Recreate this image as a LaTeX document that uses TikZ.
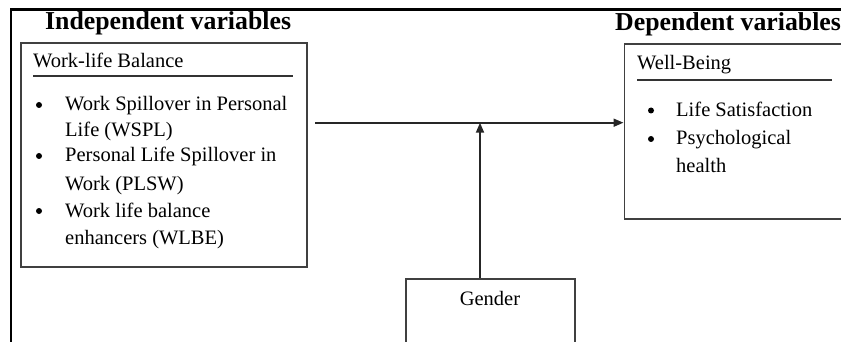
\documentclass[tikz,border=0pt]{standalone}
\usepackage{fontspec}
\setmainfont{LiberationSerif}[Extension=.ttf,UprightFont=*-Regular,BoldFont=*-Bold,ItalicFont=*-Italic,BoldItalicFont=*-BoldItalic]
\usetikzlibrary{arrows.meta}
\begin{document}
\begin{tikzpicture}[x=1pt,y=1pt,
  box/.style={draw=black!75,line width=1.6pt,rectangle,inner sep=0pt},
  frameline/.style={draw=black,line width=2.8pt},
  hline/.style={draw=black!80,line width=1.5pt},
  txt/.style={anchor=base west,inner sep=0pt,font=\rmfamily\fontsize{20.5}{24}\selectfont},
  head/.style={anchor=base west,inner sep=0pt,font=\rmfamily\fontsize{25.8}{30}\selectfont\bfseries},
  bul/.style={circle,fill=black,inner sep=0pt,minimum size=6pt},
  arr/.style={draw=black!85,line width=1.8pt,-{Triangle[length=10pt,width=8pt]}}]
\useasboundingbox (0,0) rectangle (841,-342);
\clip (0,0) rectangle (841,-342);
% outer frame
\coordinate (f0) at (11,-342);
\coordinate (f1) at (11,-9.5);
\coordinate (f2) at (845,-9.5);
\draw[frameline] (f0) -- (f1) -- (f2);
% headings
\node[head] (hind) at (45,-29.5) {Independent variables};
\node[head] (hdep) at (615,-30.5) {Dependent variables};
% boxes
\node[box,anchor=north west,minimum width=286pt,minimum height=224pt] (ind) at (20,-42) {};
\node[box,anchor=north west,minimum width=230pt,minimum height=175pt] (dep) at (623.5,-43) {};
\node[box,anchor=north west,minimum width=169pt,minimum height=90pt] (gen) at (405,-278) {};
% left box content
\node[txt] (wlb) at (33,-68) {Work-life Balance};
\coordinate (l1a) at (33,-76);
\coordinate (l1b) at (293,-76);
\draw[hline] (l1a) -- (l1b);
\node[bul] (b1) at (39,-105) {};
\node[txt] (t1) at (65,-111) {Work Spillover in Personal};
\node[txt] (t1b) at (65,-137) {Life (WSPL)};
\node[bul] (b2) at (39,-156) {};
\node[txt] (t2) at (65,-162) {Personal Life Spillover in};
\node[txt] (t2b) at (65,-190) {Work (PLSW)};
\node[bul] (b3) at (39,-211) {};
\node[txt] (t3) at (65,-217) {Work life balance};
\node[txt] (t3b) at (65,-244) {enhancers (WLBE)};
% right box content
\node[txt] (wb) at (637,-70) {Well-Being};
\coordinate (l2a) at (637,-80);
\coordinate (l2b) at (832,-80);
\draw[hline] (l2a) -- (l2b);
\node[bul] (b4) at (651,-110.5) {};
\node[txt] (t4) at (676,-116.5) {Life Satisfaction};
\node[bul] (b5) at (651,-139) {};
\node[txt] (t5) at (676,-145) {Psychological};
\node[txt] (t5b) at (676,-172) {health};
% gender text
\node[txt,anchor=base] (gt) at (490,-305) {Gender};
% connectors
\coordinate (a0) at (315,-122.7);
\coordinate (m) at (480,-122.7);
\draw[arr] (a0) -- (a0 -| dep.west);
\draw[arr] (m |- gen.north) -- (m);
\end{tikzpicture}
\end{document}
